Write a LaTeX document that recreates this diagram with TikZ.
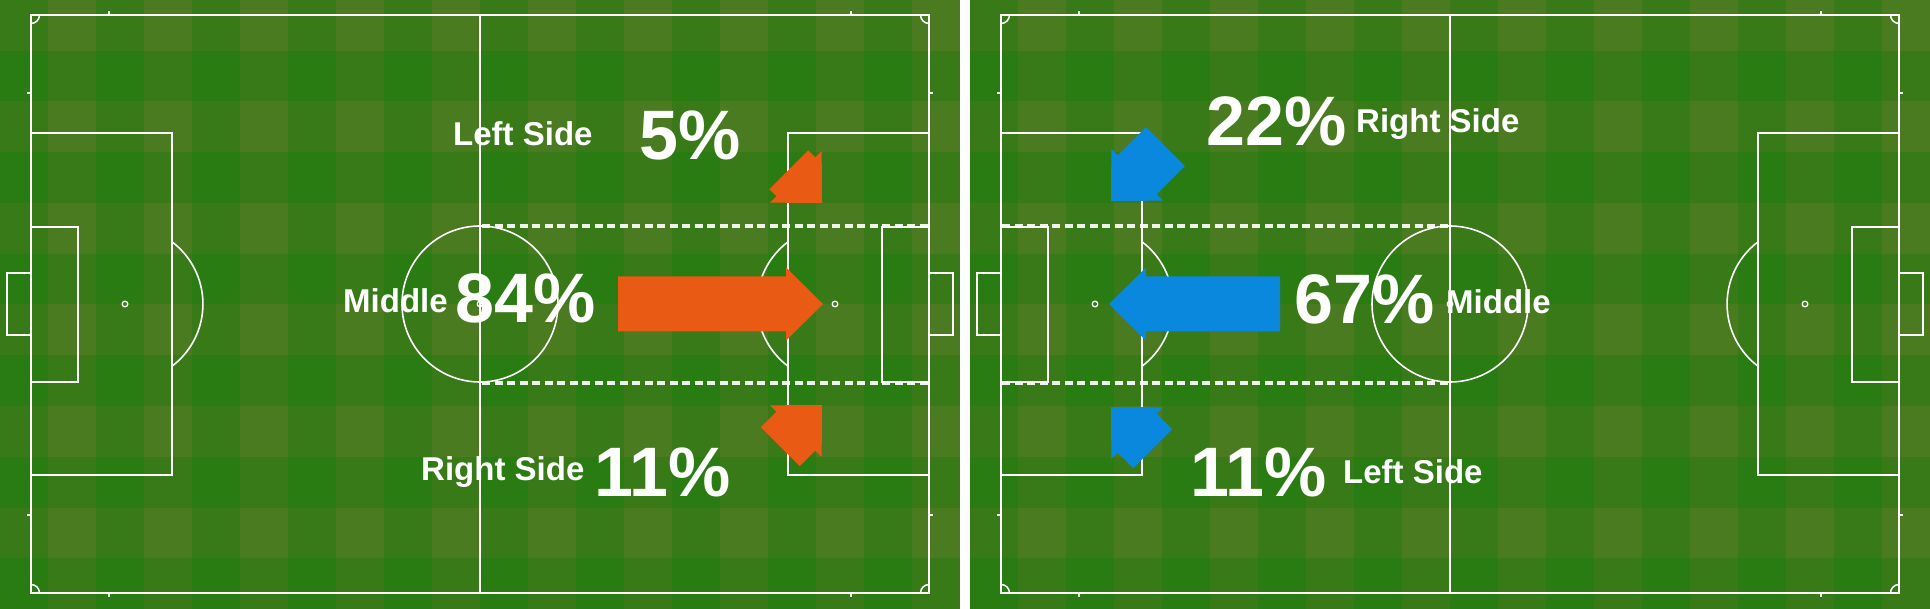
\documentclass[tikz,border=0pt]{standalone}
\usepackage{fontspec}
\setmainfont{Liberation Sans}
\definecolor{gdark}{RGB}{40,124,17}
\definecolor{gmed}{RGB}{57,122,24}
\definecolor{glight}{RGB}{74,123,32}
\definecolor{arrorange}{RGB}{233,90,20}
\definecolor{arrblue}{RGB}{10,136,221}
\tikzset{
  pitchline/.style={draw=white, line width=1.9pt},
  zoneline/.style={draw=white, line width=4pt, dash pattern=on 8pt off 4.5pt, opacity=0.92},
  pct/.style={text=white, font=\fontsize{70}{70}\selectfont\bfseries, anchor=base west, inner sep=0pt},
  zonelabel/.style={text=white, font=\fontsize{33}{33}\selectfont\bfseries, anchor=base west, inner sep=0pt},
}
% flow arrow: tip x, tip y, rotation, shaft length, colour
\newcommand\flowarrow[5]{%
  \fill[#5, shift={(#1,#2)}, rotate=#3] (0,0) -- (-37,36.5) -- (-37,27.5) -- ({-37-#4},27.5)
     -- ({-37-#4},-27.5) -- (-37,-27.5) -- (-37,-36.5) -- cycle;}
\begin{document}
\begin{tikzpicture}[x=1pt,y=-1pt]
\useasboundingbox (0,0) rectangle (1930,609);
\fill[white] (0,0) rectangle (1930,609);
% striped grass
\foreach \ox in {0,970}{
  \fill[gdark] (\ox,0) rectangle ({\ox+960},609);
  \foreach \c in {1,3,...,19} \fill[gmed] ({\ox+48*\c},0) rectangle ({\ox+48*\c+48},609);
  \foreach \r in {0,2,...,10} \fill[gmed] (\ox,{50.75*\r}) rectangle ({\ox+960},{50.75*\r+50.75});
  \foreach \c in {1,3,...,19} \foreach \r in {0,2,...,10}
    \fill[glight] ({\ox+48*\c},{50.75*\r}) rectangle ({\ox+48*\c+48},{50.75*\r+50.75});
}
% pitch markings
\foreach \ox in {0,970}{
\begin{scope}[shift={(\ox,0)}]
  \draw[pitchline] (31,15) rectangle (929,593);
  \draw[pitchline] (480,15) -- (480,593);
  \draw[pitchline, line width=1.6pt] (480,304) circle[radius=78pt];
  \draw[pitchline, line width=1.3pt] (480,304) circle[radius=2.8pt];
  \draw[pitchline, line width=1.3pt] (125,304) circle[radius=2.8pt];
  \draw[pitchline, line width=1.3pt] (835,304) circle[radius=2.8pt];
  % left end
  \draw[pitchline] (31,133) rectangle (172,475);
  \draw[pitchline] (31,227) rectangle (78,382);
  \draw[pitchline] (31,273) -- (7,273) -- (7,335) -- (31,335);
  \draw[pitchline, line width=1.6pt] (172,241.8) arc[start angle=52.9, end angle=-52.9, radius=78pt];
  % right end
  \draw[pitchline] (788,133) rectangle (929,475);
  \draw[pitchline] (882,227) rectangle (929,382);
  \draw[pitchline] (929,273) -- (953,273) -- (953,335) -- (929,335);
  \draw[pitchline, line width=1.6pt] (788,241.8) arc[start angle=127.1, end angle=232.9, radius=78pt];
  % corner arcs
  \draw[pitchline, line width=1.5pt] (39.5,15) arc[start angle=0, end angle=-90, radius=8.5pt];
  \draw[pitchline, line width=1.5pt] (929,23.5) arc[start angle=-90, end angle=-180, radius=8.5pt];
  \draw[pitchline, line width=1.5pt] (39.5,593) arc[start angle=0, end angle=90, radius=8.5pt];
  \draw[pitchline, line width=1.5pt] (920.5,593) arc[start angle=180, end angle=90, radius=8.5pt];
  % ticks
  \draw[pitchline, line width=1.5pt] (109,15) -- (109,11) (851,15) -- (851,11)
        (109,593) -- (109,597) (851,593) -- (851,597)
        (31,93) -- (27,93) (31,515) -- (27,515)
        (929,93) -- (933,93) (929,515) -- (933,515);
\end{scope}
}
% zone boundaries
\draw[zoneline] (482,226) -- (928,226);
\draw[zoneline] (482,383) -- (928,383);
\draw[zoneline] (1002,226) -- (1448,226);
\draw[zoneline] (1002,383) -- (1448,383);
% arrows, left pitch
\flowarrow{823}{304}{0}{168}{arrorange}
\flowarrow{822}{203}{-45}{10}{arrorange}
\flowarrow{822}{405}{45}{22}{arrorange}
% arrows, right pitch
\flowarrow{1109}{304}{180}{134}{arrblue}
\flowarrow{1111}{201}{-135}{40}{arrblue}
\flowarrow{1111}{407}{135}{22}{arrblue}
% texts, left pitch
\node[zonelabel] (lleft) at (453,146) {Left Side};
\node[pct] (lfive) at (639,160) {5\%};
\node[zonelabel] (lmid) at (343,313) {Middle};
\node[pct] (leightyfour) at (455,323) {84\%};
\node[zonelabel] (lright) at (421,480) {Right Side};
\node[pct] (leleven) at (594,496) {11\%};
% texts, right pitch
\node[pct] (rtwentytwo) at (1206,146) {22\%};
\node[zonelabel] (rright) at (1356,133) {Right Side};
\node[pct] (rsixtyseven) at (1294,324) {67\%};
\node[zonelabel] (rmid) at (1446,314) {Middle};
\node[pct] (releven) at (1190,496) {11\%};
\node[zonelabel] (rleft) at (1343,483) {Left Side};
\end{tikzpicture}
\end{document}
